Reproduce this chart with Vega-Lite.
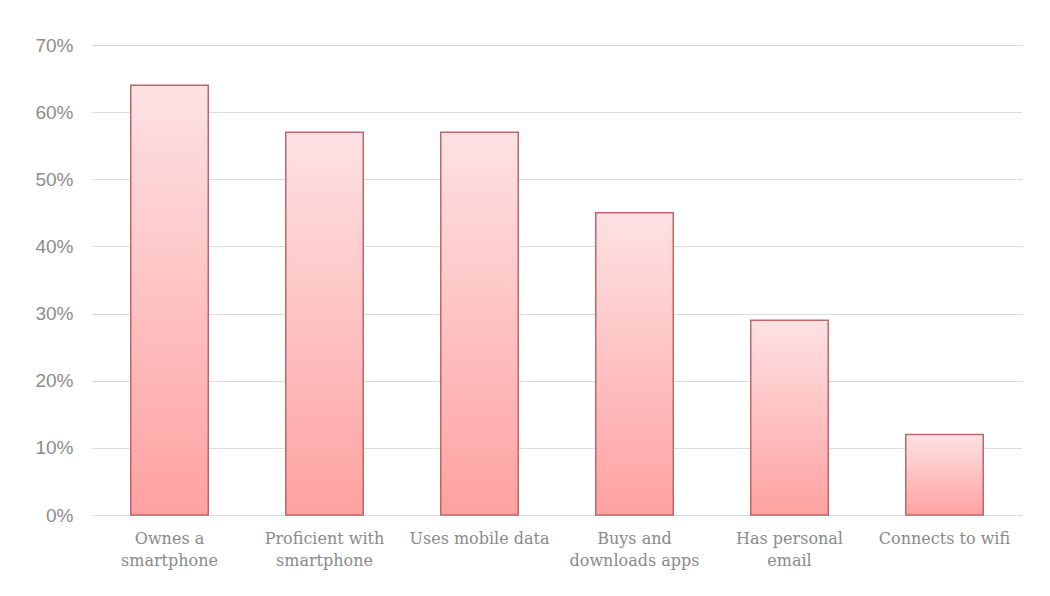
{
  "$schema": "https://vega.github.io/schema/vega-lite/v6.json",
  "width": 930,
  "height": 470,
  "autosize": "none",
  "padding": {"left": 92, "top": 45, "right": 28, "bottom": 81},
  "background": "white",
  "config": {"view": {"stroke": null}},
  "data": {
    "values": [
      {"category": "Ownes a smartphone", "pct": 64},
      {"category": "Proficient with smartphone", "pct": 57},
      {"category": "Uses mobile data", "pct": 57},
      {"category": "Buys and downloads apps", "pct": 45},
      {"category": "Has personal email", "pct": 29},
      {"category": "Connects to wifi", "pct": 12}
    ]
  },
  "mark": {
    "type": "bar",
    "stroke": "#c0666b",
    "strokeWidth": 1.5,
    "color": {
      "gradient": "linear",
      "x1": 0, "y1": 0, "x2": 0, "y2": 1,
      "stops": [
        {"offset": 0, "color": "#fde2e3"},
        {"offset": 1, "color": "#ffa1a1"}
      ]
    }
  },
  "encoding": {
    "x": {
      "field": "category",
      "type": "nominal",
      "sort": null,
      "scale": {"paddingInner": 0.5, "paddingOuter": 0.25},
      "axis": {
        "title": null,
        "labelAngle": 0,
        "domain": false,
        "ticks": false,
        "labelFont": "DejaVu Serif",
        "labelFontSize": 16,
        "labelColor": "#8a8a8a",
        "labelPadding": 15,
        "labelLineHeight": 22,
        "labelBaseline": "top",
        "labelExpr": "({'Ownes a smartphone': ['Ownes a', 'smartphone'], 'Proficient with smartphone': ['Proficient with', 'smartphone'], 'Buys and downloads apps': ['Buys and', 'downloads apps'], 'Has personal email': ['Has personal', 'email']})[datum.label] || datum.label"
      }
    },
    "y": {
      "field": "pct",
      "type": "quantitative",
      "scale": {"domain": [0, 70]},
      "axis": {
        "title": null,
        "values": [0, 10, 20, 30, 40, 50, 60, 70],
        "labelExpr": "datum.value + '%'",
        "domain": false,
        "ticks": false,
        "grid": true,
        "gridColor": "#dcdcdc",
        "gridWidth": 1,
        "labelFont": "Liberation Sans",
        "labelFontSize": 19,
        "labelColor": "#8c8c8c",
        "labelPadding": 19
      }
    }
  }
}
